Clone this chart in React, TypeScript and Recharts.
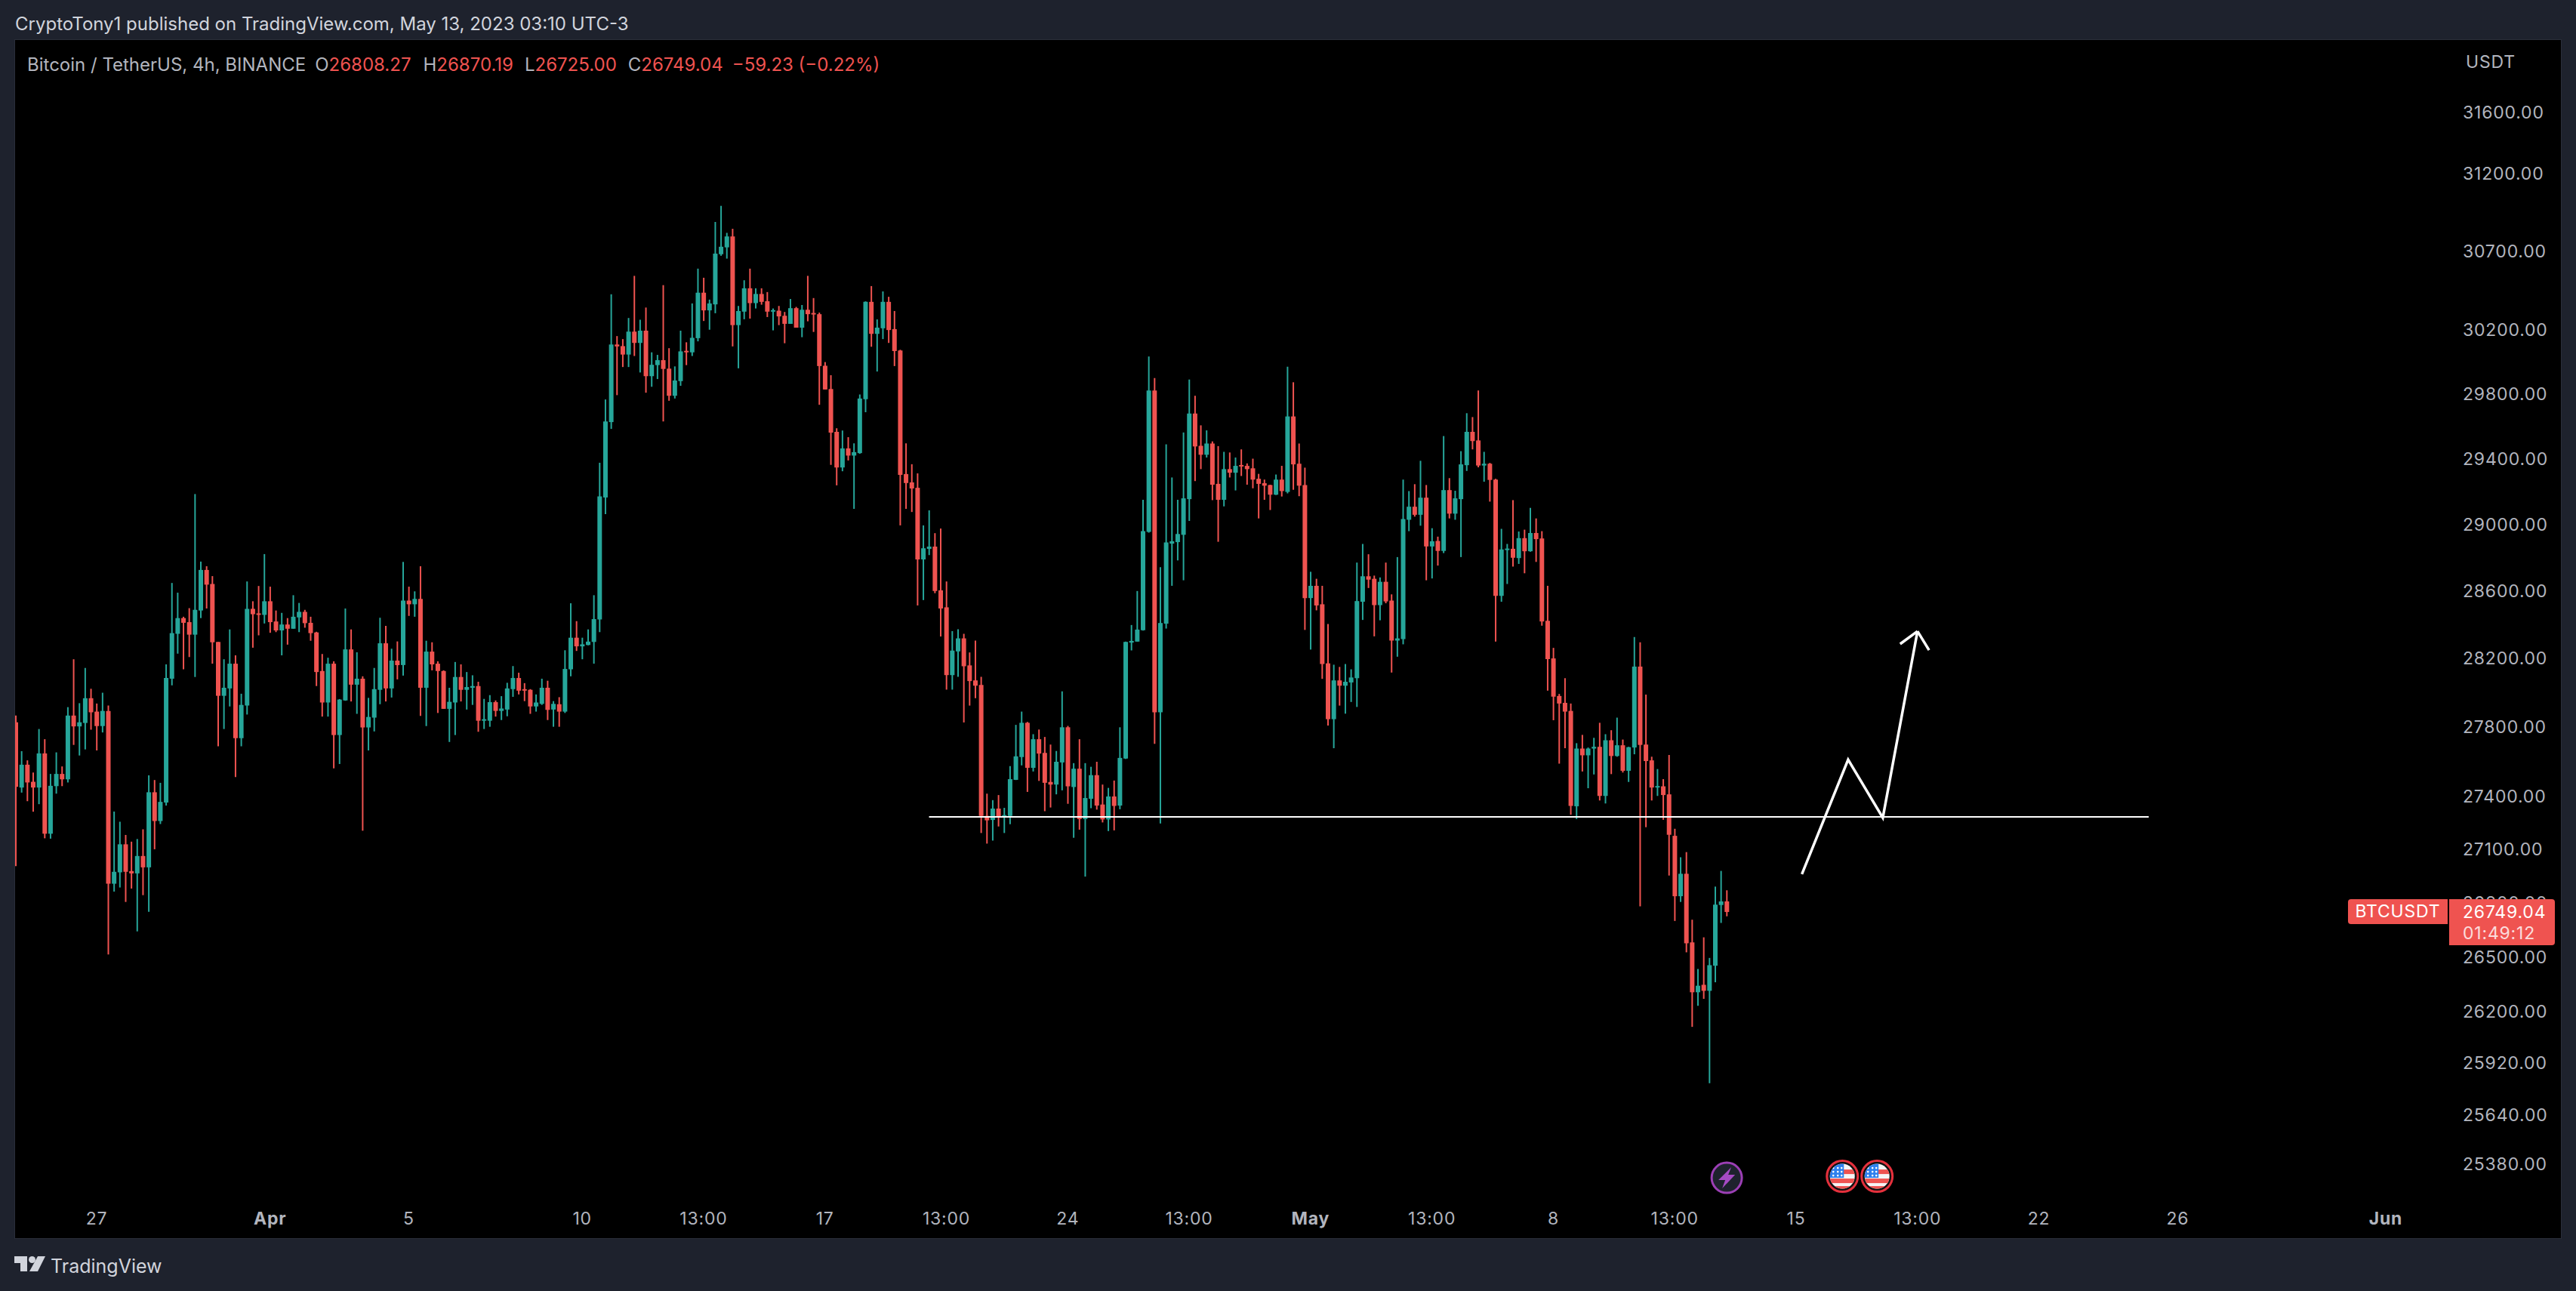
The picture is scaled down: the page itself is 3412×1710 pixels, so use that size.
import React from "react";
import { ComposedChart, Bar, Line, XAxis, YAxis, Cell, ReferenceDot } from "recharts";

// 4h candles: [open, high, low, close]
const marchCandles: number[][] = [
[27828,27867,27006,27456],[27452,27661,27423,27583],[27583,27608,27374,27481],[27485,27538,27314,27452],[27452,27789,27357,27648],
[27648,27730,27163,27189],[27189,27530,27161,27462],[27460,27654,27417,27530],[27530,27573,27460,27499],[27499,27916,27481,27867],
[27867,28196,27697,27804],[27804,27939,27636,27828],[27824,28145,27671,27968],[27968,28023,27785,27886],[27890,27937,27665,27806],
[27806,28000,27769,27894],[27894,27925,26513,26907],[26907,27315,26863,26974],[26971,27257,26886,27129],[27129,27182,26805,26974],
[26978,27144,26880,26965],[26965,27159,26641,27063],[27063,27214,26843,26999],[26999,27522,26750,27425],[27425,27495,27101,27261],
[27261,27479,27244,27370],[27366,28166,27349,28086],[28082,28648,28043,28350],[28346,28590,28229,28439],[28439,28447,28137,28411],
[28415,28498,28209,28341],[28341,29184,28092,28488],[28484,28776,28439,28726],[28726,28748,28496,28638],[28642,28689,28170,28296],
[28298,28298,27689,27982],[27982,28196,27789,28029],[28025,28372,27920,28170],[28170,28219,27512,27736],[27736,27994,27689,27929],
[27925,28657,27873,28494],[28494,28539,28264,28462],[28464,28630,28337,28458],[28458,28821,28407,28539],
];
const aprilCandles: number[][] = [
[28539,28626,28352,28415],[28419,28484,28356,28366],[28366,28470,28219,28401],[28401,28439,28282,28376],[28376,28575,28376,28447],
[28443,28529,28356,28476],[28476,28488,28382,28409],[28411,28447,28305,28350],[28354,28358,28039,28121],[28127,28227,27861,27943],
[27943,28205,27861,28170],[28170,28184,27562,27754],[27754,27963,27587,27960],[27955,28496,27953,28254],[28254,28372,27949,28047],
[28047,28237,27877,28082],[28082,28096,27206,27798],[27798,27970,27665,27859],[27855,28145,27775,28021],[28017,28441,27933,28290],
[28290,28393,27949,28025],[28025,28258,27972,28188],[28188,28301,28078,28162],[28162,28774,28100,28543],[28543,28626,28452,28521],
[28521,28598,28447,28553],[28553,28748,27865,28029],[28029,28305,27806,28241],[28241,28296,28131,28166],[28170,28184,27882,28127],
[28127,28131,27906,27906],[27906,28029,27714,27947],[27943,28180,27754,28092],[28092,28166,27949,28017],[28017,28121,27902,28033],
[28029,28102,27929,28039],[28039,28064,27773,27837],[27837,27964,27789,27841],[27837,27986,27802,27945],[27945,27955,27861,27894],
[27894,27980,27841,27908],[27902,28058,27863,28025],[28021,28156,27976,28086],[28086,28117,27990,28012],[28017,28056,27951,28012],
[28017,28021,27877,27920],[27920,27990,27890,27943],[27935,28082,27929,28029],[28029,28070,27841,27900],[27902,27951,27802,27935],
[27933,27974,27802,27890],[27890,28249,27882,28139],[28137,28527,28096,28323],[28323,28421,28245,28272],[28272,28323,28196,28284],
[28280,28372,28278,28300],[28298,28575,28170,28433],[28431,29375,28356,29170],[29163,29765,29062,29629],[29625,30425,29583,30108],
[30108,30161,29792,30096],[30098,30142,29967,30045],[30045,30275,29967,30189],[30189,30542,30036,30118],[30118,30264,29933,30195],
[30195,30341,29807,29910],[29910,30059,29844,29981],[29979,30043,29892,30010],[30010,30483,29629,29955],[29957,30085,29757,29788],
[29788,29971,29771,29883],[29879,30195,29850,30065],[30067,30122,29979,30059],[30059,30367,30036,30150],[30148,30588,30128,30435],
[30435,30530,30256,30323],[30323,30391,30201,30367],[30361,30887,30305,30684],[30680,30991,30670,30728],[30724,30817,30652,30794],
[30794,30843,30096,30230],[30230,30351,29959,30319],[30315,30514,30267,30463],[30463,30588,30271,30369],[30369,30463,30335,30427],
[30427,30463,30359,30377],[30381,30439,30281,30315],[30315,30335,30197,30323],[30321,30351,30230,30285],[30289,30313,30116,30238],
[30238,30395,30238,30337],[30337,30345,30214,30214],[30214,30357,30154,30327],[30327,30542,30254,30299],[30303,30401,30187,30297],
[30299,30309,29732,29973],[29975,29998,29827,29827],[29830,29916,29362,29560],[29565,29587,29237,29346],[29346,29573,29323,29463],
[29463,29532,29389,29419],[29419,29494,29094,29440],[29434,29796,29430,29771],[29767,30380,29686,30377],[30377,30477,30094,30175],
[30175,30266,29939,30214],[30210,30443,30142,30377],[30377,30409,30118,30199],[30205,30319,29973,30067],[30071,30075,28994,29301],
[29306,29494,29094,29251],[29255,29366,29075,29218],[29222,29310,28514,28789],[28789,28994,28546,28856],[28852,29085,28815,28866],
[28866,28947,28587,28600],[28604,28975,28330,28496],[28503,28657,28018,28103],[28103,28362,28018,28247],[28242,28373,28093,28319],
[28319,28346,27827,28155],[28160,28236,27925,28068],[28072,28306,27968,28041],[28045,28093,27193,27290],[27290,27417,27133,27265],
[27267,27380,27150,27332],[27332,27409,27230,27284],[27286,27336,27193,27294],[27290,27575,27243,27500],[27496,27813,27495,27631],
[27627,27890,27579,27825],[27825,27830,27427,27565],[27565,27759,27544,27730],[27730,27786,27490,27647],[27651,27743,27317,27479],
[27484,27699,27338,27469],[27469,27662,27413,27600],[27596,28008,27436,27799],[27799,27807,27359,27459],[27455,27592,27166,27560],
[27560,27730,27212,27272],[27272,27592,26947,27392],[27388,27571,27334,27523],[27523,27600,27326,27349],[27355,27469,27253,27270],
[27270,27450,27204,27401],[27401,27492,27208,27347],[27349,27799,27328,27622],[27618,28300,27616,28298],[28294,28398,28248,28304],
[28300,28600,28300,28371],[28367,29149,28365,28959],[28955,30033,28950,29821],[29821,29898,27703,27886],[27886,28743,27247,28410],
[28406,29488,28377,28891],[28884,29285,28631,28898],[28893,29149,28783,28942],[28937,29561,28664,29158],[29153,29889,29021,29678],
[29678,29788,29263,29475],[29479,29605,29336,29424],[29424,29574,29407,29493],[29493,29506,29147,29241],[29246,29477,28895,29149],
[29149,29442,29109,29336],[29336,29438,29285,29314],[29314,29407,29206,29356],[29358,29457,29294,29352],[29356,29371,29241,29336],
[29341,29400,29219,29272],[29277,29307,29036,29246],[29250,29272,29149,29235],[29239,29241,29087,29180],[29180,29303,29178,29272],
[29272,29356,29169,29202],[29197,29969,29188,29660],[29660,29872,29210,29365],[29369,29493,29171,29235],
];
const mayCandles: number[][] = [
[29239,29345,28369,28558],[28558,28715,28253,28631],[28631,28673,28485,28514],[28521,28631,28081,28168],[28172,28404,27809,27846],
[27846,28164,27678,28072],[28072,28151,27925,28041],[28041,28168,27878,28064],[28060,28137,27946,28089],[28085,28770,27917,28540],
[28536,28882,28428,28688],[28688,28820,28618,28668],[28673,28692,28331,28516],[28516,28681,28426,28655],[28655,28770,28527,28538],
[28543,28580,28118,28306],[28306,28803,28211,28319],[28315,29272,28284,29032],[29028,29202,28959,29107],[29107,29244,29047,29058],
[29058,29387,28992,29162],[29162,29239,28664,28867],[28867,28977,28675,28898],[28900,28926,28752,28840],[28840,29539,28827,29208],
[29208,29281,29036,29065],[29065,29204,29028,29158],[29153,29446,28803,29365],[29360,29680,29325,29565],[29565,29656,29457,29508],
[29512,29821,29347,29358],[29358,29442,29259,29369],[29369,29374,29138,29270],[29272,29277,28300,28571],[28571,28973,28536,28849],
[28845,28882,28642,28854],[28853,29147,28746,28799],[28797,28957,28762,28917],[28917,28968,28706,28838],[28838,29100,28835,28948],
[28948,29036,28774,28911],[28915,28959,28394,28419],[28423,28631,28012,28197],[28201,28263,27840,27977],[27981,27993,27589,27937],
[27941,28085,27678,27890],[27894,27937,27297,27347],[27345,27707,27272,27676],[27676,27755,27544,27637],[27637,27682,27448,27676],
[27676,27738,27527,27686],[27686,27825,27378,27404],[27404,27759,27361,27724],[27724,27782,27529,27633],[27633,27855,27629,27695],
[27695,27728,27538,27548],[27548,27686,27484,27684],[27682,28327,27643,28153],[28153,28296,26780,27697],[27699,27989,27226,27604],
[27608,27629,27378,27452],[27452,27558,27404,27459],[27459,27500,27268,27409],[27413,27639,26953,27183],[27177,27217,26699,26837],
[26837,27056,26805,26963],[26963,27085,26525,26575],[26580,26706,26116,26305],[26305,26433,26231,26341],[26346,26608,26269,26313],
[26313,26494,25811,26454],[26451,26891,26360,26790],[26788,26979,26688,26808],[26808.27,26870.19,26725,26749.04],
];

const priceTicks = [31600,31200,30700,30200,29800,29400,29000,28600,28200,27800,27400,27100,26800,26500,26200,25920,25640,25380];
const timeTickIndex = [14,44,68,98,119,140,161,182,203,224,245,266,287,308,329,350,374,410];
const timeTickText = ["27","Apr","5","10","13:00","17","13:00","24","13:00","May","13:00","8","13:00","15","13:00","22","26","Jun"];
const boldTimeLabels = ["Apr","May","Jun"];

// Hand-drawn annotations: [bar index, price]
const levelLine = [[158,27285],[369,27285]];
const zigzagPath = [[309,26961],[317,27612],[323,27280],[329,28361]];
const arrowWingLeft = [[326,28286],[329,28361]];
const arrowWingRight = [[329,28361],[331,28250]];
const eventMarkers = [["dividend",296,25307],["us",316,25315],["us",322,25315]];

const UP = "#26a69a";
const DOWN = "#ef5350";
const TEXT = "#b2b5be";
const FRAME = "#1e222d";
const FONT = "Inter, 'Noto Sans', sans-serif";
const TOTAL_SLOTS = 422;
const TIME_LABEL_Y = 1559;

const candles = [...marchCandles, ...aprilCandles, ...mayCandles];

const lookup = (pairs: number[][], i: number) => {
  const hit = pairs.find((p) => p[0] === i);
  return hit ? hit[1] : null;
};

const table = Array.from({ length: TOTAL_SLOTS }, (_, i) => {
  const c = candles[i];
  return {
    idx: i,
    wick: c ? [c[2], c[1]] : null,
    body: c ? [Math.min(c[0], c[3]), Math.max(c[0], c[3])] : null,
    color: c ? (c[3] >= c[0] ? UP : DOWN) : UP,
    level: lookup(levelLine, i),
    path: lookup(zigzagPath, i),
    wingL: lookup(arrowWingLeft, i),
    wingR: lookup(arrowWingRight, i),
  };
});

const TimeTick = (props: any) => {
  const { x, payload } = props;
  const label = timeTickText[timeTickIndex.indexOf(payload.value)];
  return (
    <text x={x} y={TIME_LABEL_Y} textAnchor="middle" dominantBaseline="central" fill={TEXT}
      fontFamily={FONT} fontSize={23} letterSpacing={0.8}
      fontWeight={boldTimeLabels.includes(label) ? 700 : 400}>
      {label}
    </text>
  );
};

const DividendMark = (props: any) => (
  <g transform={`translate(${props.cx},${props.cy})`}>
    <circle r={20} fill={FRAME} stroke="#9c3fb5" strokeWidth={3} />
    <path d="M6 -14 L-11 3 L-2 3 L-6 14 L11 -4 L2 -4 Z" fill="#a64bc4" />
  </g>
);

const UsMark = (props: any) => {
  const id = `flag-${Math.round(props.cx)}`;
  return (
    <g transform={`translate(${props.cx},${props.cy})`}>
      <circle r={20.5} fill="#111" stroke="#e5303c" strokeWidth={3} />
      <clipPath id={id}><circle r={16.5} /></clipPath>
      <g clipPath={`url(#${id})`}>
        <rect x={-18} y={-18} width={36} height={36} fill="#f5f5f5" />
        <rect x={-18} y={-9} width={36} height={6} fill="#ef5350" />
        <rect x={-18} y={3} width={36} height={6} fill="#ef5350" />
        <rect x={-18} y={13} width={36} height={6} fill="#ef5350" />
        <rect x={-18} y={-18} width={20} height={20} fill="#2f80ed" />
        {[-12,-6,-1].map((px) => [-11,-6,-1].map((py) => (
          <circle key={`${px}${py}`} cx={px} cy={py} r={1.3} fill="#fff" />
        )))}
      </g>
    </g>
  );
};

const drawn = { stroke: "#ffffff", dot: false, connectNulls: true, isAnimationActive: false, xAxisId: "wick", legendType: "none" as const };

export default function App() {
  return (
    <div style={{ position: "absolute", left: 0, top: 0, width: 3412, height: 1710, background: FRAME, overflow: "hidden", fontFamily: FONT }}>
      <div style={{ position: "absolute", left: 20, top: 15, fontSize: 24, color: "#d1d4dc", lineHeight: "34px", whiteSpace: "nowrap" }}>
        CryptoTony1 published on TradingView.com, May 13, 2023 03:10 UTC-3
      </div>
      <div style={{ position: "absolute", left: 20, top: 53, width: 3372, height: 1587, background: "#000", overflow: "hidden", boxShadow: "0 0 0 1px #2a2e39" }}>
        <div style={{ position: "absolute", left: -3, top: 2 }}>
          <ComposedChart width={3375} height={1585} data={table} margin={{ top: 0, right: 0, bottom: 0, left: 0 }}>
            <XAxis xAxisId="wick" dataKey="idx" type="category" ticks={timeTickIndex} interval={0}
              height={54} axisLine={false} tickLine={false} tick={<TimeTick />} />
            <XAxis xAxisId="body" dataKey="idx" type="category" hide />
            <YAxis yAxisId={0} orientation="right" scale="log" type="number" domain={[25204, 32071]} allowDataOverflow
              ticks={priceTicks} interval={0} width={144} axisLine={false} tickLine={false} tickSize={0} tickMargin={14}
              tickFormatter={(v: number) => v.toFixed(2)}
              tick={{ fill: TEXT, fontSize: 23, fontFamily: FONT, letterSpacing: 0.8, textAnchor: "start" }} />
            <Bar xAxisId="wick" dataKey="wick" barSize={2} isAnimationActive={false}>
              {table.map((r) => <Cell key={r.idx} fill={r.color} />)}
            </Bar>
            <Bar xAxisId="body" dataKey="body" barSize={6} minPointSize={2} isAnimationActive={false}>
              {table.map((r) => <Cell key={r.idx} fill={r.color} />)}
            </Bar>
            <Line {...drawn} dataKey="level" strokeWidth={2} />
            <Line {...drawn} dataKey="path" strokeWidth={3.5} />
            <Line {...drawn} dataKey="wingL" strokeWidth={3.5} />
            <Line {...drawn} dataKey="wingR" strokeWidth={3.5} />
            {eventMarkers.map((m) => (
              <ReferenceDot key={String(m[1])} xAxisId="wick" x={m[1] as number} y={m[2] as number} r={20}
                shape={m[0] === "us" ? <UsMark /> : <DividendMark />} />
            ))}
          </ComposedChart>
        </div>
        <div style={{ position: "absolute", left: 16, top: 16, fontSize: 24, lineHeight: "34px", color: TEXT, whiteSpace: "nowrap" }}>
          <span>Bitcoin / TetherUS, 4h, BINANCE</span>
          <span style={{ marginLeft: 12 }}>O<span style={{ color: DOWN }}>26808.27</span></span>
          <span style={{ marginLeft: 16 }}>H<span style={{ color: DOWN }}>26870.19</span></span>
          <span style={{ marginLeft: 15 }}>L<span style={{ color: DOWN }}>26725.00</span></span>
          <span style={{ marginLeft: 15 }}>C<span style={{ color: DOWN }}>26749.04</span></span>
          <span style={{ marginLeft: 12, color: DOWN }}>−59.23 (−0.22%)</span>
        </div>
        <div style={{ position: "absolute", left: 3246, top: 12, fontSize: 23, lineHeight: "34px", letterSpacing: 0.8, color: TEXT }}>USDT</div>
        <div style={{ position: "absolute", left: 3090, top: 1138, width: 132, height: 33, background: DOWN, borderRadius: "4px 0 0 4px", color: "#fff", fontSize: 23, letterSpacing: 0.8, lineHeight: "33px", textAlign: "center" }}>BTCUSDT</div>
        <div style={{ position: "absolute", left: 3224, top: 1138, width: 140, height: 61, background: DOWN, borderRadius: "0 4px 4px 0", color: "#fff", fontSize: 23, letterSpacing: 0.8, lineHeight: "28px", paddingLeft: 18, boxSizing: "border-box", paddingTop: 3 }}>
          <div>26749.04</div>
          <div style={{ opacity: 0.8 }}>01:49:12</div>
        </div>
      </div>
      <svg style={{ position: "absolute", left: 19, top: 1664 }} width={42} height={22} viewBox="0 0 42 22">
        <path d="M0 0 H17 V20 H8 V9 H0 Z" fill="#d1d4dc" />
        <circle cx={23.5} cy={4.5} r={4.5} fill="#d1d4dc" />
        <path d="M31 0 H41 L31 20 H20 Z" fill="#d1d4dc" />
      </svg>
      <div style={{ position: "absolute", left: 67, top: 1660, fontSize: 25, lineHeight: "34px", color: "#d1d4dc" }}>TradingView</div>
    </div>
  );
}
